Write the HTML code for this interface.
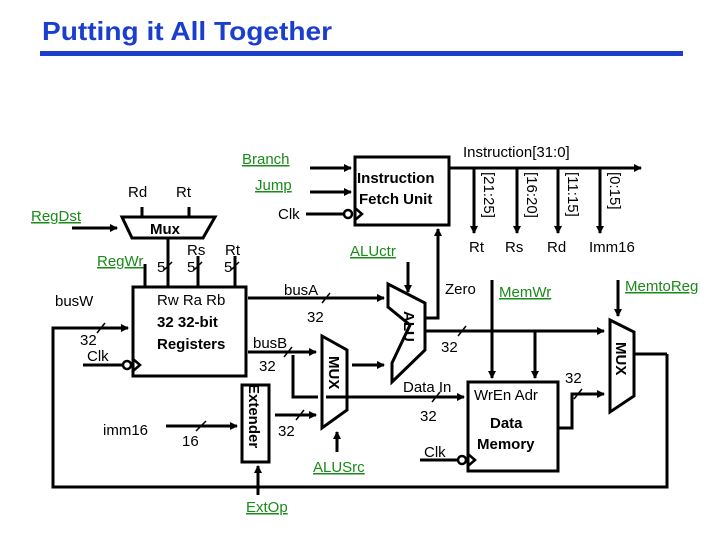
<!DOCTYPE html>
<html><head><meta charset="utf-8"><style>
html,body{margin:0;padding:0;background:#fff;}
svg{display:block;}
text{font-family:"Liberation Sans",Arial,sans-serif;}
.g{fill:#1a8a1a;text-decoration:underline;font-size:15px;}
.t{font-size:15px;fill:#000;}
.b{font-size:15px;font-weight:bold;fill:#000;}
</style></head><body>
<svg width="720" height="540" viewBox="0 0 720 540" xmlns="http://www.w3.org/2000/svg">
<defs><marker id="a" markerWidth="8" markerHeight="8" refX="7" refY="4" orient="auto" markerUnits="userSpaceOnUse"><path d="M0,0 L8,4 L0,8 z" fill="#000"/></marker></defs>
<text x="42" y="40" font-size="26" font-weight="bold" fill="#1a3fcc" textLength="290" lengthAdjust="spacingAndGlyphs">Putting it All Together</text>
<rect x="40" y="51" width="643" height="5" fill="#1a3fcc"/>
<g stroke="#000" stroke-width="3" fill="none">
<!-- register file -->
<rect x="133" y="287" width="113" height="89"/>
<!-- RegDst mux -->
<polygon points="122,217 215,217 203,238 132,238"/>
<line x1="142" y1="207" x2="142" y2="217"/><line x1="189" y1="207" x2="189" y2="217"/>
<line x1="72" y1="228" x2="117" y2="228" marker-end="url(#a)"/>
<line x1="145" y1="264" x2="145" y2="287"/>
<line x1="168" y1="238" x2="168" y2="287"/>
<line x1="198" y1="256" x2="198" y2="287"/>
<line x1="235" y1="256" x2="235" y2="287"/>
<!-- busW feedback -->
<polyline points="667,354 667,487 53,487 53,328 128,328" marker-end="url(#a)"/>
<line x1="635" y1="354" x2="667" y2="354"/>
<!-- reg clk -->
<line x1="83" y1="365" x2="122" y2="365"/>
<!-- busA -->
<line x1="248" y1="298" x2="384" y2="298" marker-end="url(#a)"/>
<!-- busB -->
<line x1="248" y1="352" x2="316" y2="352" marker-end="url(#a)"/>
<polyline points="293,355 293,397 318,397"/>
<line x1="326" y1="397" x2="464" y2="397" marker-end="url(#a)"/>
<!-- ALUSrc mux -->
<polygon points="322,336 347,350 347,410 322,428"/>
<line x1="352" y1="365" x2="384" y2="365" marker-end="url(#a)"/>
<line x1="337" y1="452" x2="337" y2="432" marker-end="url(#a)"/>
<!-- extender -->
<rect x="242" y="385" width="27" height="77"/>
<line x1="275" y1="415" x2="316" y2="415" marker-end="url(#a)"/>
<line x1="166" y1="426" x2="237" y2="426" marker-end="url(#a)"/>
<line x1="258" y1="495" x2="258" y2="466" marker-end="url(#a)"/>
<!-- ALU -->
<polygon points="388,284 425,303 425,350 392,382 392,363 410,325 388,307"/>
<polyline points="425,318 438,318 438,229" marker-end="url(#a)"/>
<line x1="408" y1="262" x2="408" y2="292" marker-end="url(#a)"/>
<line x1="425" y1="331" x2="604" y2="331" marker-end="url(#a)"/>
<line x1="535" y1="331" x2="535" y2="378" marker-end="url(#a)"/>
<line x1="492" y1="280" x2="492" y2="378" marker-end="url(#a)"/>
<!-- data memory -->
<rect x="468" y="382" width="90" height="89"/>
<polyline points="558,428 572,428 572,394 604,394" marker-end="url(#a)"/>
<line x1="420" y1="460" x2="457" y2="460"/>
<!-- output mux -->
<polygon points="610,320 634,332 634,396 610,412"/>
<line x1="618" y1="280" x2="618" y2="316" marker-end="url(#a)"/>
<!-- IFU -->
<rect x="355" y="157" width="94" height="68"/>
<line x1="310" y1="168" x2="351" y2="168" marker-end="url(#a)"/>
<line x1="310" y1="192" x2="351" y2="192" marker-end="url(#a)"/>
<line x1="306" y1="214" x2="343" y2="214"/>
<line x1="449" y1="168" x2="641" y2="168" marker-end="url(#a)"/>
<line x1="474" y1="168" x2="474" y2="233" marker-end="url(#a)"/>
<line x1="517" y1="168" x2="517" y2="233" marker-end="url(#a)"/>
<line x1="558" y1="168" x2="558" y2="233" marker-end="url(#a)"/>
<line x1="600" y1="168" x2="600" y2="233" marker-end="url(#a)"/>
</g>
<!-- clock circles/triangles -->
<g stroke="#000" stroke-width="2.5" fill="#fff">
<circle cx="127" cy="365" r="4"/><polyline points="133,359 140,365 133,371" fill="none"/>
<circle cx="462" cy="460" r="4"/><polyline points="468,454 475,460 468,466" fill="none"/>
<circle cx="348" cy="214" r="4"/><polyline points="355,208 362,214 355,220" fill="none"/>
</g>
<!-- slashes -->
<g stroke="#000" stroke-width="1.5">
<line x1="164" y1="270" x2="172" y2="262"/><line x1="194" y1="270" x2="202" y2="262"/><line x1="231" y1="270" x2="239" y2="262"/>
<line x1="97" y1="333" x2="105" y2="323"/><line x1="322" y1="303" x2="330" y2="293"/>
<line x1="284" y1="357" x2="292" y2="347"/><line x1="196" y1="431" x2="206" y2="421"/>
<line x1="296" y1="420" x2="304" y2="410"/><line x1="458" y1="336" x2="466" y2="326"/>
<line x1="432" y1="402" x2="440" y2="392"/><line x1="574" y1="399" x2="582" y2="389"/>
</g>
<!-- labels -->
<text class="t" x="128" y="197">Rd</text><text class="t" x="176" y="197">Rt</text>
<text class="b" x="150" y="234">Mux</text>
<text class="g" x="31" y="221">RegDst</text>
<text class="g" x="97" y="266">RegWr</text>
<text class="t" x="157" y="272">5</text><text class="t" x="187" y="272">5</text><text class="t" x="224" y="272">5</text>
<text class="t" x="187" y="255">Rs</text><text class="t" x="225" y="255">Rt</text>
<text class="t" x="157" y="305">Rw Ra  Rb</text>
<text class="b" x="157" y="327">32 32-bit</text>
<text class="b" x="157" y="349">Registers</text>
<text class="t" x="55" y="306">busW</text>
<text class="t" x="80" y="345">32</text>
<text class="t" x="87" y="361">Clk</text>
<text class="t" x="284" y="295">busA</text>
<text class="t" x="307" y="322">32</text>
<text class="t" x="253" y="348">busB</text>
<text class="t" x="259" y="371">32</text>
<text class="t" x="103" y="435">imm16</text>
<text class="t" x="182" y="446">16</text>
<text class="t" x="278" y="436">32</text>
<text class="b" transform="translate(249,384) rotate(90)" x="0" y="0">Extender</text>
<text class="b" transform="translate(329,356) rotate(90)">MUX</text>
<text class="b" transform="translate(404,311) rotate(90)">ALU</text>
<text class="b" transform="translate(616,342) rotate(90)">MUX</text>
<text class="g" x="313" y="472">ALUSrc</text>
<text class="g" x="246" y="512">ExtOp</text>
<text class="g" x="242" y="164">Branch</text>
<text class="g" x="255" y="190">Jump</text>
<text class="t" x="278" y="219">Clk</text>
<text class="b" x="357" y="183">Instruction</text>
<text class="b" x="359" y="204">Fetch Unit</text>
<text class="t" x="463" y="157">Instruction[31:0]</text>
<text class="t" transform="translate(484,172) rotate(90)">[21:25]</text>
<text class="t" transform="translate(527,172) rotate(90)">[16:20]</text>
<text class="t" transform="translate(568,172) rotate(90)">[11:15]</text>
<text class="t" transform="translate(610,172) rotate(90)">[0:15]</text>
<text class="t" x="469" y="252">Rt</text><text class="t" x="505" y="252">Rs</text><text class="t" x="547" y="252">Rd</text><text class="t" x="589" y="252">Imm16</text>
<text class="g" x="350" y="256">ALUctr</text>
<text class="t" x="445" y="294">Zero</text>
<text class="g" x="499" y="297">MemWr</text>
<text class="g" x="625" y="291">MemtoReg</text>
<text class="t" x="441" y="352">32</text>
<text class="t" x="403" y="392">Data In</text>
<text class="t" x="420" y="421">32</text>
<text class="t" x="424" y="457">Clk</text>
<text class="t" x="474" y="400">WrEn Adr</text>
<text class="b" x="490" y="428">Data</text>
<text class="b" x="477" y="449">Memory</text>
<text class="t" x="565" y="383">32</text>
</svg>
</body></html>
